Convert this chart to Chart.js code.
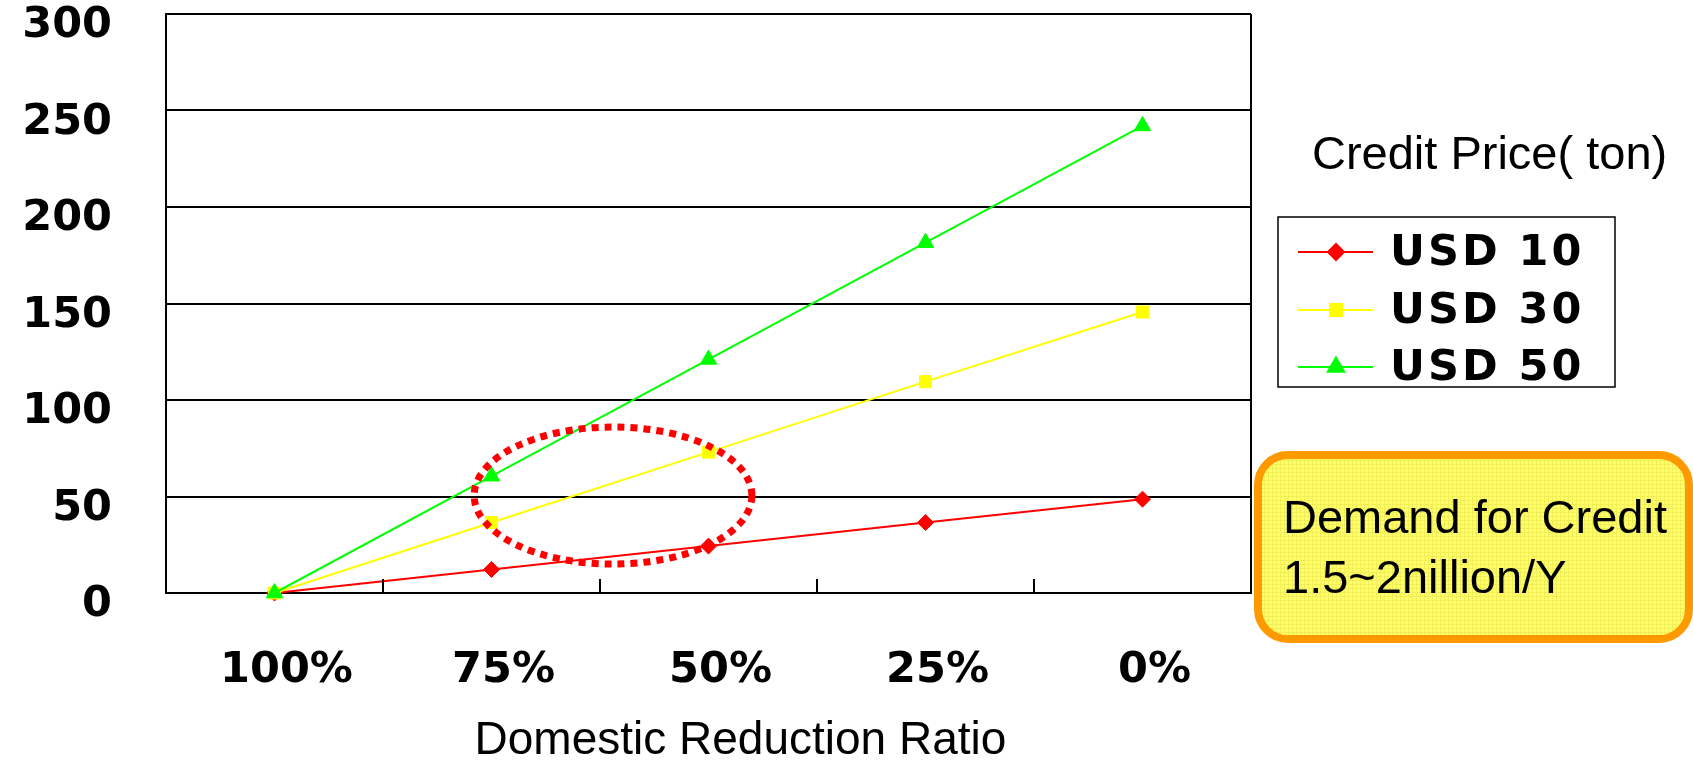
<!DOCTYPE html>
<html>
<head>
<meta charset="utf-8">
<script src="https://cdn.jsdelivr.net/npm/chart.js@4"></script>
<style>
  html, body { margin: 0; padding: 0; background: #fff; }
  #chart { display: block; }
</style>
</head>
<body>
<canvas id="chart" width="1693" height="760"></canvas>
<script>
const categories = ["100%", "75%", "50%", "25%", "0%"];
const seriesNames = ["USD 10", "USD 30", "USD 50"];
const usd10 = [0, 12.2, 24.3, 36.5, 48.6];
const usd30 = [0, 36.5, 73, 109.5, 145.6];
const usd50 = [0, 60.5, 121, 181.5, 242];
const yTicks = [0, 50, 100, 150, 200, 250, 300];
const legendTitle = "Credit Price( ton)";
const noteLines = ["Demand for Credit", "1.5~2nillion/Y"];

const tickFont = { family: "DejaVu Sans", weight: "bold", size: 43 };

// yellow box fill with the fine grid texture
function makePattern(ctx) {
    const c = document.createElement("canvas");
    c.width = 4; c.height = 4;
    const p = c.getContext("2d");
    p.fillStyle = "#ffff6e";
    p.fillRect(0, 0, 4, 4);
    p.fillStyle = "#f2ee55";
    p.fillRect(0, 0, 4, 1);
    p.fillRect(0, 0, 1, 4);
    return ctx.createPattern(c, "repeat");
}

const extras = {
    id: "extras",
    afterDatasetsDraw(chart) {
        const ctx = chart.ctx;
        const x = chart.scales.x, y = chart.scales.y;
        // dotted ellipse around the 75%-50% region
        const l = x.getPixelForValue(0.92), r = x.getPixelForValue(2.2);
        const t = y.getPixelForValue(86), b = y.getPixelForValue(15);
        ctx.save();
        ctx.strokeStyle = "#ff0000";
        ctx.lineWidth = 7;
        ctx.setLineDash([7, 6]);
        ctx.beginPath();
        ctx.ellipse((l + r) / 2, (t + b) / 2, (r - l) / 2, (b - t) / 2, 0, 0, Math.PI * 2);
        ctx.stroke();
        ctx.restore();
    },
    afterDraw(chart) {
        const ctx = chart.ctx;
        const area = chart.chartArea;
        const x = chart.scales.x;
        ctx.save();
        // right frame line
        ctx.strokeStyle = "#000";
        ctx.lineWidth = 2;
        ctx.beginPath();
        ctx.moveTo(area.right, area.top);
        ctx.lineTo(area.right, area.bottom);
        ctx.stroke();
        // inward tick marks between categories
        for (let i = 1; i < categories.length; i++) {
            const px = x.getPixelForValue(i - 0.5);
            ctx.beginPath();
            ctx.moveTo(px, area.bottom);
            ctx.lineTo(px, area.bottom - 14);
            ctx.stroke();
        }

        // legend title
        ctx.fillStyle = "#000";
        ctx.font = "47px 'Liberation Sans'";
        ctx.textBaseline = "alphabetic";
        ctx.fillText(legendTitle, 1312, 169);

        // legend box
        ctx.lineWidth = 1.5;
        ctx.strokeRect(1278, 217, 337, 170);
        const rows = [252, 310, 367];
        chart.data.datasets.forEach((ds, i) => {
            const cy = rows[i];
            ctx.strokeStyle = ds.borderColor;
            ctx.lineWidth = 2;
            ctx.beginPath();
            ctx.moveTo(1298, cy);
            ctx.lineTo(1373, cy);
            ctx.stroke();
            ctx.fillStyle = ds.backgroundColor;
            ctx.strokeStyle = ds.borderColor;
            Chart.helpers.drawPoint(ctx, { pointStyle: ds.pointStyle, radius: ds.pointRadius, borderWidth: 1, rotation: 0 }, 1336, cy);
            ctx.fillStyle = "#000";
            ctx.font = "bold 43px 'DejaVu Sans'";
            ctx.letterSpacing = "3px";
            ctx.textBaseline = "middle";
            ctx.fillText(ds.label, 1390, cy + 2);
            ctx.letterSpacing = "0px";
        });

        // note box
        const bx = 1258, by = 455, bw = 431, bh = 184, rad = 30;
        ctx.beginPath();
        ctx.roundRect(bx, by, bw, bh, rad);
        ctx.fillStyle = makePattern(ctx);
        ctx.fill();
        ctx.strokeStyle = "#ff9900";
        ctx.lineWidth = 8;
        ctx.stroke();
        ctx.fillStyle = "#000";
        ctx.font = "47px 'Liberation Sans'";
        ctx.textBaseline = "alphabetic";
        ctx.fillText(noteLines[0], 1283, 533);
        ctx.fillText(noteLines[1], 1283, 593);
        ctx.restore();
    }
};

const chart = new Chart(document.getElementById("chart"), {
    type: "line",
    data: {
        labels: categories,
        datasets: [
            { label: seriesNames[0], data: usd10, borderColor: "#ff0000", backgroundColor: "#ff0000", pointStyle: "rectRot", pointRadius: 8, order: 2 },
            { label: seriesNames[1], data: usd30, borderColor: "#ffff00", backgroundColor: "#ffff00", pointStyle: "rect", pointRadius: 8.5, order: 1 },
            { label: seriesNames[2], data: usd50, borderColor: "#00ff00", backgroundColor: "#00ff00", pointStyle: "triangle", pointRadius: 9.5, order: 0 }
        ].map(ds => Object.assign(ds, { borderWidth: 2, pointBorderWidth: 1, tension: 0, clip: false, fill: false }))
    },
    options: {
        responsive: false,
        animation: false,
        layout: { padding: { top: 14, right: 442, left: 0, bottom: 0 } },
        plugins: { legend: { display: false }, tooltip: { enabled: false } },
        scales: {
            x: {
                offset: true,
                grid: { display: false },
                border: { display: true, color: "#000", width: 2 },
                ticks: { font: tickFont, color: "#000", padding: 44, labelOffset: 12, maxRotation: 0, autoSkip: false },
                title: {
                    display: true,
                    text: "\u00a0\u00a0\u00a0\u00a0\u00a0Domestic Reduction Ratio",
                    color: "#000",
                    font: { family: "Liberation Sans", size: 46, lineHeight: 0.8 },
                    padding: 0
                },
                afterFit: s => { s.height = 167; s.paddingLeft = 0; s.paddingRight = 0; }
            },
            y: {
                min: 0,
                max: 300,
                afterBuildTicks: s => { s.ticks = yTicks.map(v => ({ value: v })); },
                grid: { color: "#000", lineWidth: 2, drawTicks: false },
                border: { color: "#000", width: 2 },
                ticks: { font: tickFont, color: "#000", padding: 54, labelOffset: 12 },
                afterFit: s => { s.width = 166; s.paddingTop = 0; s.paddingBottom = 0; }
            }
        }
    },
    plugins: [extras]
});
</script>
</body>
</html>
